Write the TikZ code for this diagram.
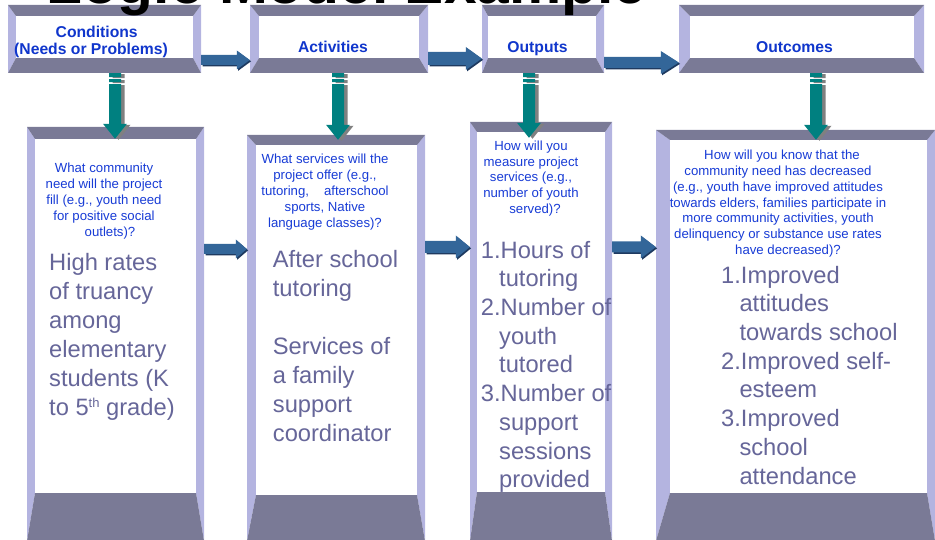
\documentclass[tikz,border=0pt]{standalone}
\usepackage{fontspec}
\setmainfont{Liberation Sans}
\usetikzlibrary{calc,fit}

\definecolor{beveldark}{RGB}{122,122,150}
\definecolor{bevellight}{RGB}{180,180,224}
\definecolor{headblue}{RGB}{16,54,204}
\definecolor{askblue}{RGB}{24,60,214}
\definecolor{bodyslate}{RGB}{102,102,153}
\definecolor{flowblue}{RGB}{51,102,153}
\definecolor{flowshade}{RGB}{30,58,96}
\definecolor{dropteal}{RGB}{0,128,128}
\definecolor{dropgray}{RGB}{128,128,128}

\newcommand\fsz[2]{\fontsize{#1}{#2}\selectfont}
\newcommand\topstrut{\rule{0pt}{.75em}}
\newcommand\listindent{\hspace*{18.3pt}}
\newcommand\ordsup[1]{\raisebox{7.5pt}{\fsz{13}{13}#1}}

% bevelled panel: name, outer x1 y1 x2 y2, inner x1 y1 x2 y2
\newcommand\bevelbox[9]{%
  \fill[bevellight] (#2,#3) -- (#6,#7) -- (#6,#9) -- (#2,#5) -- cycle;
  \fill[bevellight] (#4,#3) -- (#8,#7) -- (#8,#9) -- (#4,#5) -- cycle;
  \fill[beveldark] (#2,#3) -- (#4,#3) -- (#8,#7) -- (#6,#7) -- cycle;
  \fill[beveldark] (#2,#5) -- (#4,#5) -- (#8,#9) -- (#6,#9) -- cycle;
  \fill[white] (#6,#7) rectangle (#8,#9);
  \coordinate (#1-nw) at (#2,#3);
  \coordinate (#1-se) at (#4,#5);
  \node[inner sep=0pt, fit=(#1-nw)(#1-se)] (#1) {};
}

% block arrow to the right: from, to, y, shaft half, head half, head length, offset
\newcommand\hpoly[7]{%
  let \p1=(#1 |- 0,#3), \p2=(#2 |- 0,#3) in
  (\x1+#7pt,\y1+#4pt-#7pt) -- (\x2-#6pt+#7pt,\y1+#4pt-#7pt)
  -- (\x2-#6pt+#7pt,\y1+#5pt-#7pt) -- (\x2+#7pt,\y1-#7pt)
  -- (\x2-#6pt+#7pt,\y1-#5pt-#7pt) -- (\x2-#6pt+#7pt,\y1-#4pt-#7pt)
  -- (\x1+#7pt,\y1-#4pt-#7pt) -- cycle
}
\newcommand\harrow[6]{%
  \fill[flowshade] \hpoly{#1}{#2}{#3}{#4}{#5}{#6}{1.3};
  \fill[flowblue] \hpoly{#1}{#2}{#3}{#4}{#5}{#6}{0};
}

% striped block arrow downwards: top node, bottom node, x, tip depth, dx, dy
\newcommand\vpoly[6]{%
  let \p1=(#1.south -| #3,0), \p2=(#2.north -| #3,0) in
  (\x1-6pt+#5pt,\y1-#6pt) rectangle (\x1+6pt+#5pt,\y1-4pt-#6pt)
  (\x1-6pt+#5pt,\y1-6pt-#6pt) rectangle (\x1+6pt+#5pt,\y1-9pt-#6pt)
  (\x1-6pt+#5pt,\y1-11pt-#6pt) -- (\x1+6pt+#5pt,\y1-11pt-#6pt)
  -- (\x1+6pt+#5pt,\y2-#4pt+15pt-#6pt) -- (\x1+12pt+#5pt,\y2-#4pt+15pt-#6pt)
  -- (\x1+#5pt,\y2-#4pt-#6pt)
  -- (\x1-12pt+#5pt,\y2-#4pt+15pt-#6pt) -- (\x1-6pt+#5pt,\y2-#4pt+15pt-#6pt) -- cycle
}
\newcommand\varrow[4]{%
  \fill[dropgray] \vpoly{#1}{#2}{#3}{#4}{3.5}{1};
  \fill[dropteal] \vpoly{#1}{#2}{#3}{#4}{0}{0};
}

\tikzset{
  headtext/.style={font=\fsz{15.7}{17}\bfseries, text=headblue, align=center, inner sep=0pt, anchor=north},
  asktext/.style={font=\fsz{13.2}{15.9}, text=askblue, align=center, inner sep=0pt, anchor=north},
  bodytext/.style={font=\fsz{23.7}{29}, text=bodyslate, align=left, inner sep=0pt, anchor=north west},
  listtext/.style={bodytext, font=\fsz{23.7}{28.7}},
}

\begin{document}
\begin{tikzpicture}[x=1pt, y=-1pt]
\useasboundingbox (0,0) rectangle (935,540);
\clip (0,0) rectangle (935,540);

% heading panels
\bevelbox{cond}{8}{5}{201}{73}{16}{16}{193}{58}
\bevelbox{act}{250}{5}{428}{73}{259}{16}{419}{58}
\bevelbox{outp}{482}{5}{604}{73}{488}{16}{596}{58}
\bevelbox{outc}{679}{5}{924}{73}{690}{16}{914}{58}

% content panels
\bevelbox{need}{27}{127}{204}{541}{35}{139}{196}{493}
\bevelbox{serv}{247}{135}{425}{541}{256}{145}{417}{495}
\bevelbox{meas}{470}{122}{612}{541}{477}{132}{605}{492}
\bevelbox{gain}{656}{130}{935}{541}{670}{140}{927}{493}

% flow between heading panels
\harrow{cond.east}{act.west}{60}{5}{9.5}{13}
\harrow{act.east}{outp.west}{58.5}{6.5}{11.5}{16}
\harrow{outp.east}{outc.west}{62.5}{5.5}{11.5}{18}

% flow between content panels
\harrow{need.east}{serv.west}{249}{5}{9.5}{11}
\harrow{serv.east}{meas.west}{247}{6}{11.5}{14}
\harrow{meas.east}{gain.west}{247}{5.5}{11.5}{15}

% heading to content
\varrow{cond}{need}{115}{12}
\varrow{act}{serv}{338}{5}
\varrow{outp}{meas}{529}{16}
\varrow{outc}{gain}{816}{10}

% heading labels
\node[headtext] (condT) at (91,25.4) {\topstrut\hspace*{11.4pt}Conditions\\(Needs or Problems)};
\node[headtext] (actT) at (333,40.5) {\topstrut Activities};
\node[headtext] (outpT) at (537.5,40.5) {\topstrut Outputs};
\node[headtext] (outcT) at (794.5,40.5) {\topstrut Outcomes};

% guiding questions
\node[asktext] (needQ) at (104,162.6) {\topstrut What community\\need will the project\\fill (e.g., youth need\\for positive social\\\hspace*{12pt}outlets)?};
\node[asktext] (servQ) at (325,153.6) {\topstrut What services will the\\project offer (e.g.,\\tutoring,\hspace{15pt}afterschool\\sports, Native\\language classes)?};
\node[asktext] (measQ) at (531,140.1) {\topstrut How will you\\measure project\\services (e.g.,\\number of youth\\\hspace*{8pt}served)?};
\node[asktext, font=\fsz{13.2}{15.8}] (gainQ) at (778,149.6) {\topstrut\hspace*{8pt}How will you know that the\\community need has decreased\\(e.g., youth have improved attitudes\\towards elders, families participate in\\more community activities, youth\\delinquency or substance use rates\\\hspace*{20pt}have decreased)?};

% example answers
\node[bodytext] (needB) at (49,252.2) {\topstrut High rates\\of truancy\\among\\elementary\\students (K\\to 5\ordsup{th} grade)};
\node[bodytext] (servB) at (272.7,249.2) {\topstrut After school\\tutoring\\[29pt]Services of\\a family\\support\\coordinator};
\node[listtext] (measB) at (480.7,240.2) {\topstrut 1.Hours of\\\listindent tutoring\\2.Number of\\\listindent youth\\\listindent tutored\\3.Number of\\\listindent support\\\listindent sessions\\\listindent provided};
\node[listtext] (gainB) at (721,265.2) {\topstrut 1.Improved\\\listindent attitudes\\\listindent towards school\\2.Improved self-\\\listindent esteem\\3.Improved\\\listindent school\\\listindent attendance};

% page title, mostly above the top edge
\node[anchor=base west, inner sep=0pt, font=\fsz{58.7}{60}\bfseries] (title) at (46,4) {Logic Model Example};
\end{tikzpicture}
\end{document}
